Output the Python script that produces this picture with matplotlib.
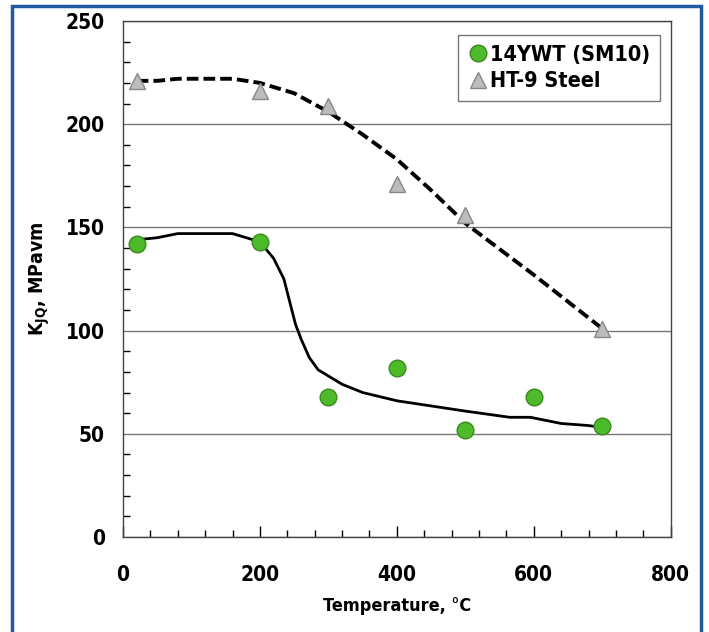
import matplotlib
matplotlib.use("Agg")
import matplotlib.pyplot as plt
from matplotlib.ticker import MultipleLocator
from matplotlib.patches import Rectangle

plt.rcParams['font.family'] = ['DejaVu Sans']
plt.rcParams['font.stretch'] = 'condensed'

# data
ywt_T = [20, 200, 300, 400, 500, 600, 700]
ywt_K = [142, 143, 68, 82, 52, 68, 54]
ht9_T = [20, 200, 300, 400, 500, 700]
ht9_K = [221, 216, 209, 171, 156, 101]

ywt_fit_T = [20, 50, 80, 160, 200, 220, 235, 245, 252, 260, 272, 285, 300, 320, 350, 400, 500, 565, 595, 640, 680, 700]
ywt_fit_K = [144, 145, 147, 147, 143, 135, 125, 112, 103, 96, 87, 81, 78, 74, 70, 66, 61, 58, 58, 55, 54, 53]
ht9_fit_T = [20, 50, 80, 160, 200, 250, 300, 350, 400, 450, 500, 600, 700]
ht9_fit_K = [221, 221, 222, 222, 220, 215, 206, 195, 183, 168, 152, 127, 101]

fig = plt.figure(figsize=(7.09, 6.32), dpi=100)
ax = fig.add_axes([0.1735, 0.1503, 0.7725, 0.8165])

ax.set_axisbelow(True)
ax.yaxis.grid(True, which='major', color='#777777', linewidth=1.0)

ax.plot(ht9_fit_T, ht9_fit_K, color='black', lw=2.8, ls=(0, (3, 1.3)), zorder=2)
ax.plot(ywt_fit_T, ywt_fit_K, color='black', lw=2.0, zorder=2)

ax.plot(ywt_T, ywt_K, 'o', ms=12, mfc='#4dba2a', mec='#3a8a22', mew=1, ls='none',
        label='14YWT (SM10)', zorder=3)
ax.plot(ht9_T, ht9_K, '^', ms=12, mfc='#bcbcbc', mec='#888888', mew=1, ls='none',
        label='HT-9 Steel', zorder=3)

ax.set_xlim(0, 800)
ax.set_ylim(0, 250)
ax.xaxis.set_major_locator(MultipleLocator(200))
ax.xaxis.set_minor_locator(MultipleLocator(40))
ax.yaxis.set_major_locator(MultipleLocator(50))
ax.yaxis.set_minor_locator(MultipleLocator(10))
ax.tick_params(axis='both', which='both', direction='in', top=False, right=False)
ax.tick_params(axis='x', which='major', length=8, width=1, pad=20)
ax.tick_params(axis='x', which='minor', length=5, width=1)
ax.tick_params(axis='y', which='major', length=0, pad=13)
ax.tick_params(axis='y', which='minor', length=5, width=1)
for lbl in ax.get_xticklabels() + ax.get_yticklabels():
    lbl.set_fontsize(15)
    lbl.set_fontweight('bold')

for s in ax.spines.values():
    s.set_color('#444444')
    s.set_linewidth(1.0)

ax.set_xlabel('Temperature, °C', fontsize=13, fontweight='bold', labelpad=9)
ax.set_ylabel('K$_{\\mathregular{JQ}}$, MPavm', fontsize=14, fontweight='bold', labelpad=10)

leg = ax.legend(loc='upper right', bbox_to_anchor=(0.98, 0.973), borderaxespad=0,
                prop={'weight': 'bold', 'size': 15.5, 'stretch': 'condensed'},
                frameon=True, fancybox=False,
                handletextpad=0.05, handlelength=1.0, borderpad=0.45, labelspacing=0.3)
leg.get_frame().set_edgecolor('#555555')
leg.get_frame().set_linewidth(1.0)

fig.patches.append(Rectangle((0.017, -0.02), 0.972, 1.01, transform=fig.transFigure,
                             fill=False, edgecolor='#1f5b9c', linewidth=2.5))

fig.savefig('out.png', dpi=100)
